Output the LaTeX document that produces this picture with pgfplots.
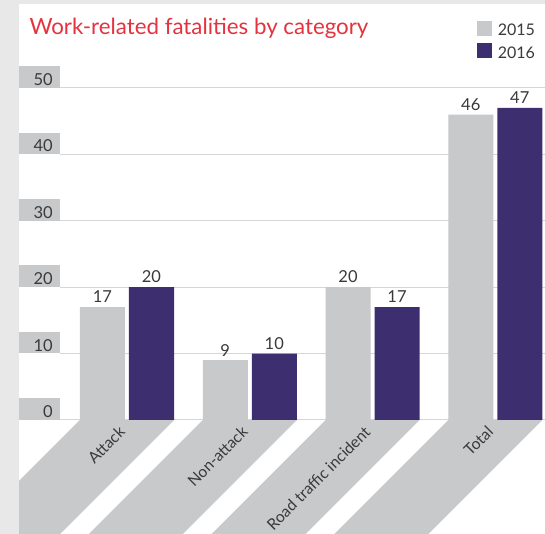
\documentclass[border=0pt]{standalone}
\usepackage{fontspec}
\setmainfont{Lato}
\usepackage{pgfplots}
\pgfplotsset{compat=1.18}
\definecolor{lgray}{HTML}{C8C9CB}
\definecolor{purp}{HTML}{3D2E6F}
\definecolor{tred}{HTML}{E5323F}
\definecolor{tgray}{HTML}{3A3A3A}
\definecolor{gridc}{HTML}{D6D6D6}
\definecolor{stripc}{HTML}{E8E8E8}
\begin{document}
\begin{tikzpicture}[x=1pt,y=1pt]
\useasboundingbox (0,0) rectangle (545,534);
\fill[white] (0,0) rectangle (545,534);
% diagonal label bands
\foreach \cx in {127,249.75,372.5,495.25}{
  \fill[lgray] (\cx-47,114) -- (\cx+47,114) -- (\cx+47-114,0) -- (\cx-47-114,0) -- cycle;
}
\begin{axis}[
  at={(60pt,114pt)}, anchor=south west,
  scale only axis, width=485pt, height=332pt,
  xmin=-0.5458, xmax=3.4053, ymin=0, ymax=50,
  clip=false,
  axis line style={draw=none},
  xtick=\empty,
  ytick={0,10,20,30,40,50},
  major tick length=0pt,
  ymajorgrids,
  major grid style={gridc, line width=1pt},
  /pgf/number format/assume math mode=true,
  yticklabel={\pgfmathprintnumber{\tick}\hspace*{7pt}},
  yticklabel style={anchor=south east, fill=lgray, text width=41pt, align=right,
    inner xsep=0pt, inner ysep=0pt, text height=19.2pt, text depth=2.3pt,
    font=\fontsize{16.5}{16.5}\selectfont, text=tgray},
  ybar, bar width=45pt,
  nodes near coords,
  every node near coord/.append style={anchor=south, inner sep=0pt, yshift=4pt,
    font=\fontsize{16.5}{16.5}\selectfont, text=tgray},
]
\addplot[draw=none, fill=lgray, bar shift=-24.5pt] coordinates {(0,17) (1,9) (2,20) (3,46)};
\addplot[draw=none, fill=purp, bar shift=24.5pt] coordinates {(0,20) (1,10) (2,17) (3,47)};
\end{axis}
% category labels
\foreach \cx/\lab in {127/Attack,249.75/Non-attack,372.5/Road traffic incident,495.25/Total}{
  \node[rotate=45, anchor=east, inner sep=0pt, text=tgray, font=\fontsize{15.7}{15.7}\selectfont] at (\cx-5,105) {\lab};
}
% frame strips
\fill[stripc] (0,0) rectangle (19,534);
\fill[stripc] (0,530) rectangle (545,534);
% title
\node[anchor=base west, inner sep=0pt, text=tred, font=\fontsize{22.3}{22.3}\selectfont] at (29.3,499.7) {Work-related fatalities by category};
% legend
\fill[lgray] (476.7,513.3) rectangle (491.7,498.3);
\fill[purp] (476.7,490.7) rectangle (491.7,475.7);
\node[anchor=base west, inner sep=0pt, text=tgray, font=\fontsize{16}{16}\selectfont] at (497.7,498) {2015};
\node[anchor=base west, inner sep=0pt, text=tgray, font=\fontsize{16}{16}\selectfont] at (497.7,475.5) {2016};
\end{tikzpicture}
\end{document}
